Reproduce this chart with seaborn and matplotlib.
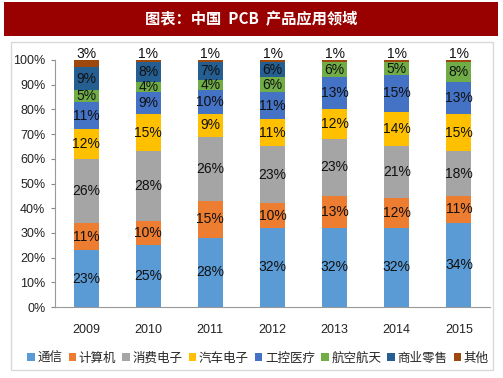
import matplotlib
matplotlib.use("Agg")
import matplotlib.pyplot as plt
import seaborn as sns
import numpy as np
import pandas as pd
from matplotlib.patches import Rectangle, Patch

years = ["2009", "2010", "2011", "2012", "2013", "2014", "2015"]
categories = ["通信", "计算机", "消费电子", "汽车电子", "工控医疗", "航空航天", "商业零售", "其他"]
tongxin = [23, 25, 28, 32, 32, 32, 34]
jisuanji = [11, 10, 15, 10, 13, 12, 11]
xiaofei = [26, 28, 26, 23, 23, 21, 18]
qiche = [12, 15, 9, 11, 12, 14, 15]
gongkong = [11, 9, 10, 11, 13, 15, 13]
hangkong = [5, 4, 4, 6, 6, 5, 8]
shangye = [9, 8, 7, 6, 0, 0, 0]
qita = [3, 1, 1, 1, 1, 1, 1]
colors = ["#5B9BD5", "#ED7D31", "#A5A5A5", "#FFC000", "#4472C4", "#70AD47", "#255E91", "#9E480E"]
title = "图表：中国  PCB  产品应用领域"

series = [tongxin, jisuanji, xiaofei, qiche, gongkong, hangkong, shangye, qita]
vals = np.array(series, dtype=float)
cum = np.cumsum(vals, axis=0)

sns.set_theme(style="white")
plt.rcParams['font.family'] = ['Liberation Sans', 'Noto Sans CJK SC', 'DejaVu Sans']

fig = plt.figure(figsize=(5.03, 3.78), dpi=100)
W, H = 503, 378

# title banner
fig.patches.append(Rectangle((4 / W, 1 - 36 / H), 494 / W, 34 / H, transform=fig.transFigure,
                             facecolor="#990000", edgecolor="none", zorder=0))
fig.text(251 / W, 1 - 19 / H, title, color="white", fontsize=11, fontweight="bold",
         ha="center", va="center", family=['Noto Sans CJK SC', 'DejaVu Sans'])
# panel border
fig.patches.append(Rectangle((11 / W, 1 - 370 / H), 482 / W, 328 / H, transform=fig.transFigure,
                             facecolor="none", edgecolor="#D9D9D9", linewidth=1, zorder=0))

ax = fig.add_axes([55 / W, 1 - 307 / H, 435 / W, 247 / H])

for i in range(len(categories) - 1, -1, -1):
    df = pd.DataFrame({"year": years, "v": cum[i]})
    sns.barplot(data=df, x="year", y="v", color=colors[i], width=0.4, ax=ax,
                saturation=1, edgecolor="none", linewidth=0)

for i in range(len(categories)):
    for j in range(len(years)):
        v = vals[i, j]
        if v <= 0:
            continue
        if i == len(categories) - 1:
            ax.text(j, cum[i, j] - 0.3, f"{int(v)}%", ha="center", va="bottom", fontsize=10, color="#111111")
        else:
            ax.text(j, cum[i, j] - v / 2, f"{int(v)}%", ha="center", va="center", fontsize=10, color="#111111")

ax.set_ylim(0, 100)
ax.set_xlim(-0.5, len(years) - 0.5)
ax.set_yticks(np.arange(0, 101, 10))
ax.set_yticklabels([f"{t}%" for t in range(0, 101, 10)], fontsize=9, color="#222222")
ax.tick_params(axis="x", labelsize=9, colors="#222222", length=0, pad=12)
ax.tick_params(axis="y", length=3, width=0.8, color="#888888", left=True, pad=4)
ax.set_xlabel("")
ax.set_ylabel("")
for s in ["top", "right"]:
    ax.spines[s].set_visible(False)
for s in ["left", "bottom"]:
    ax.spines[s].set_color("#999999")
    ax.spines[s].set_linewidth(0.8)

handles = [Patch(facecolor=c, edgecolor="none") for c in colors]
fig.legend(handles, categories, loc="center", bbox_to_anchor=(258 / W, 1 - 358 / H), ncol=8,
           frameon=False, handlelength=0.6, handleheight=0.6, handletextpad=0.2,
           columnspacing=0.5, prop={'family': ['Noto Sans CJK SC', 'DejaVu Sans'], 'size': 9})

fig.savefig("out.png", dpi=100)
